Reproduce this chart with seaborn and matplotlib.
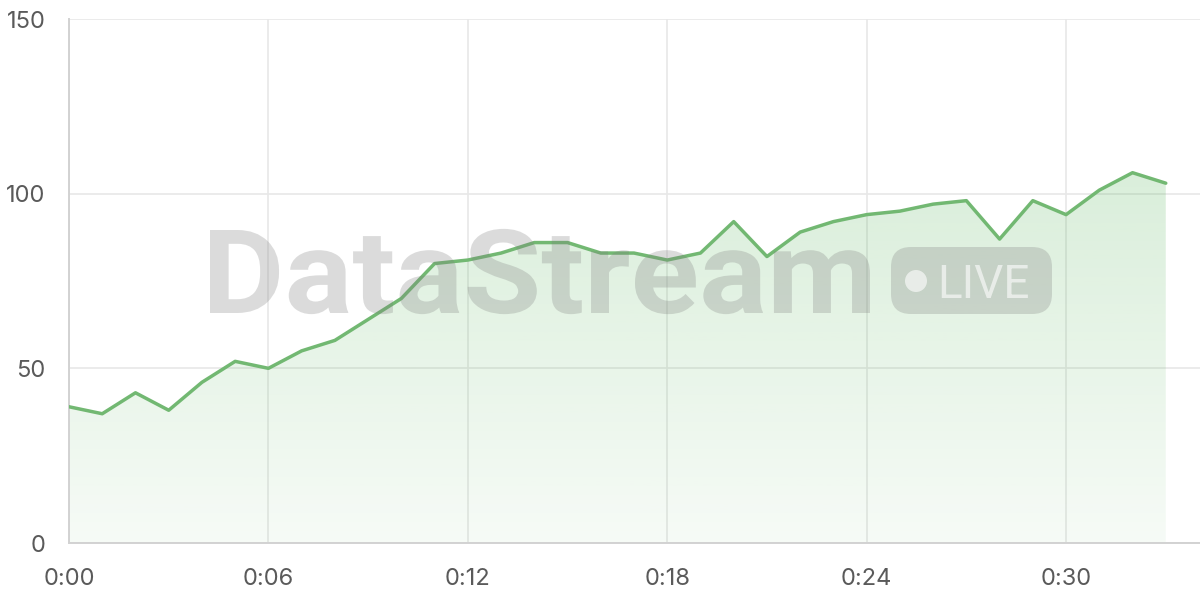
import matplotlib
matplotlib.use("Agg")
import matplotlib.pyplot as plt
from matplotlib.patches import FancyBboxPatch, Circle, PathPatch
from matplotlib.textpath import TextPath
from matplotlib.font_manager import FontProperties
from matplotlib.transforms import Affine2D
import seaborn as sns
import numpy as np
import pandas as pd

# data, one point per minute
minutes = list(range(34))
values = [39, 37, 43, 38, 46, 52, 50, 55, 58, 64, 70, 80, 81, 83, 86, 86, 83, 83,
          81, 83, 92, 82, 89, 92, 94, 95, 97, 98, 87, 98, 94, 101, 106, 103]
tick_pos = [0, 6, 12, 18, 24, 30]
tick_labels = ["0:00", "0:06", "0:12", "0:18", "0:24", "0:30"]
y_ticks = [0, 50, 100, 150]

df = pd.DataFrame({"minute": minutes, "value": values})

sns.set_theme(style="white")
plt.rcParams["font.family"] = ["Inter", "DejaVu Sans"]

line_col = "#72b872"
fill_col = np.array([76, 175, 80]) / 255
grid_col = "#e8e8e8"
axis_col = "#d2d2d2"

fig = plt.figure(figsize=(12, 6), dpi=100)
ax = fig.add_axes([69 / 1200, 1 - 543 / 600, 1 - 69 / 1200, (543 - 19) / 600])

# gradient fill under the line
poly = ax.fill_between(df["minute"], df["value"], 0, color="none", lw=0)
ymax = max(values)
grad = np.zeros((256, 1, 4))
grad[:, 0, :3] = fill_col
grad[:, 0, 3] = np.linspace(0.21, 0.05, 256)
img = ax.imshow(grad, extent=[0, max(minutes), 0, ymax], origin="upper",
                aspect="auto", zorder=1)
img.set_clip_path(poly.get_paths()[0], transform=ax.transData)

sns.lineplot(data=df, x="minute", y="value", ax=ax, color=line_col, lw=2.5, zorder=3)

ax.set_xlim(0, 34.03)
ax.set_ylim(0, 150)
ax.set_xticks(tick_pos)
ax.set_xticklabels(tick_labels)
ax.set_yticks(y_ticks)
ax.set_xlabel("")
ax.set_ylabel("")
ax.grid(True, color=grid_col, lw=1.2, zorder=0)
ax.set_axisbelow(True)
for s in ["top", "right"]:
    ax.spines[s].set_visible(False)
for s in ["left", "bottom"]:
    ax.spines[s].set_color(axis_col)
    ax.spines[s].set_linewidth(1.4)
ax.tick_params(axis="both", length=11, width=1.2, color=grid_col,
               labelsize=17, labelcolor="#5a5a5a")
ax.tick_params(axis="x", pad=7)
ax.tick_params(axis="y", pad=6)

# watermark, drawn as a path so it can be fitted to the box it fills
wm = "#808080"
tp = TextPath((0, 0), "DataStream", size=100,
              prop=FontProperties(family="Roboto", weight="bold"))
bb = tp.get_extents()
cap = TextPath((0, 0), "D", size=100,
               prop=FontProperties(family="Roboto", weight="bold")).get_extents()
sx = 6.60 / bb.width
sy = 0.83 / cap.height
tr = Affine2D().translate(-bb.x0, 0).scale(sx, sy).translate(2.10, 6.0 - 3.13)
wm_patch = PathPatch(tr.transform_path(tp), transform=fig.dpi_scale_trans,
                     facecolor=wm, edgecolor="none", alpha=0.28, zorder=10)
fig.patches.append(wm_patch)

pill = FancyBboxPatch((8.91, 2.86), 1.61, 0.67,
                      boxstyle="round,pad=0,rounding_size=0.2",
                      transform=fig.dpi_scale_trans, facecolor=wm, edgecolor="none",
                      alpha=0.28, zorder=10)
fig.patches.append(pill)
dot = Circle((9.16, 3.19), 0.11, transform=fig.dpi_scale_trans,
             facecolor="white", edgecolor="none", alpha=0.6, zorder=11)
fig.patches.append(dot)
fig.text(9.37, 3.02, "LIVE", transform=fig.dpi_scale_trans,
         fontsize=33, family=["Roboto", "DejaVu Sans"],
         color="white", alpha=0.6, ha="left", va="baseline", zorder=11)

fig.savefig("out.png", dpi=100)
